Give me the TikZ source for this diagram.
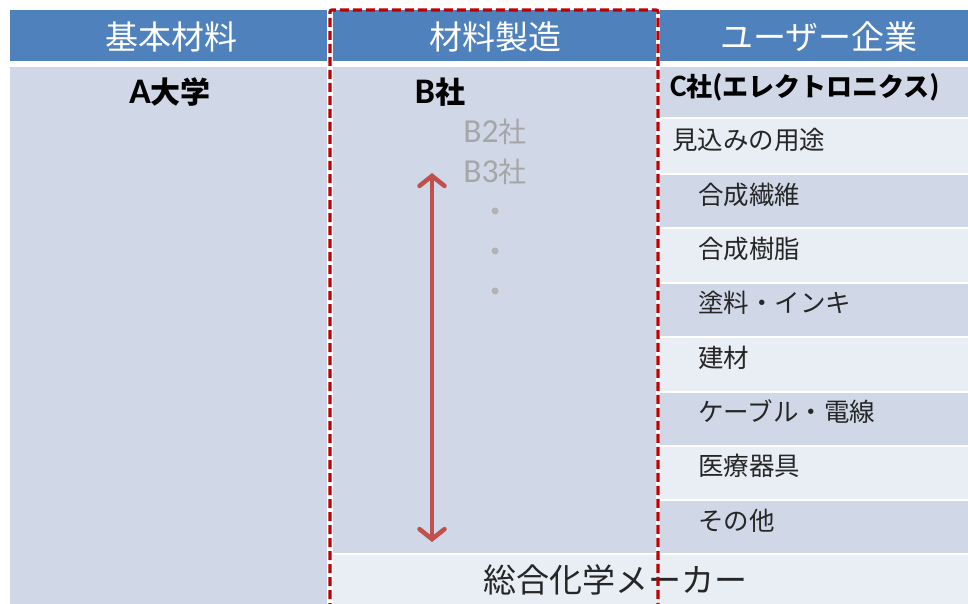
\documentclass[tikz,border=0pt]{standalone}
\usepackage{fontspec}
\setmainfont{Noto Sans CJK JP}
\newfontfamily\jp{Noto Sans CJK JP}
\newfontfamily\lat[Scale=1.2]{Carlito}
\usetikzlibrary{arrows.meta}
\definecolor{hdr}{HTML}{4F81BD}
\definecolor{dk}{HTML}{D0D8E8}
\definecolor{lt}{HTML}{E9EDF4}
\definecolor{arr}{HTML}{C0504D}
\definecolor{dsh}{HTML}{C00000}
\tikzset{
  hdtext/.style={inner sep=0pt, text=white, font=\jp\fontsize{33}{33}\selectfont},
  boldtext/.style={inner sep=0pt, text=black, font=\bfseries\fontsize{30}{30}\selectfont},
  item/.style={inner sep=0pt, anchor=west, text=black!85, font=\jp\fontsize{25.5}{25.5}\selectfont},
  graytext/.style={inner sep=0pt, text=black!35, font=\fontsize{28}{28}\selectfont},
  dotst/.style={circle, fill=black!30, inner sep=0pt, minimum size=7pt},
}
\begin{document}
\begin{tikzpicture}[x=1pt,y=-1pt]
\useasboundingbox (0,0) rectangle (968,604);
\fill[white] (0,0) rectangle (968,604);
% headers
\fill[hdr] (10,10) rectangle (327,61);
\fill[hdr] (333,10) rectangle (656,61);
\fill[hdr] (660,10) rectangle (968,61);
% column bodies
\fill[dk] (10,67) rectangle (327,604);
\fill[dk] (333,67) rectangle (656,553);
\fill[lt] (333,555) rectangle (968,604);
% column 3 rows
\fill[dk] (660,67) rectangle (968,117);
\fill[lt] (660,119) rectangle (968,173);
\fill[dk] (660,175) rectangle (968,227);
\fill[lt] (660,229) rectangle (968,282);
\fill[dk] (660,284) rectangle (968,336);
\fill[lt] (660,338) rectangle (968,391);
\fill[dk] (660,393) rectangle (968,445);
\fill[lt] (660,447) rectangle (968,499);
\fill[dk] (660,501) rectangle (968,553);
% header texts
\node[hdtext] (h1) at (171,37) {基本材料};
\node[hdtext] (h2) at (495,37) {材料製造};
\node[hdtext] (h3) at (819,37) {ユーザー企業};
% body texts
\node[boldtext] (a) at (170,92) {{\lat\bfseries A}大学};
\node[boldtext] (b) at (440,92) {{\lat\bfseries B}社};
\node[boldtext, anchor=west, font=\bfseries\fontsize{26}{26}\selectfont] (c) at (670,87) {{\lat\bfseries C}社{\lat\bfseries (}エレクトロニクス{\lat\bfseries )}};
\node[item] (u0) at (672,140) {見込みの用途};
\node[item] (u1) at (698,195) {合成繊維};
\node[item] (u2) at (698,249) {合成樹脂};
\node[item] (u3) at (698,303) {塗料・インキ};
\node[item] (u4) at (698,358) {建材};
\node[item] (u5) at (698,412) {ケーブル・電線};
\node[item] (u6) at (698,466) {医療器具};
\node[item] (u7) at (698,521) {その他};
\node[graytext] (b2) at (495,132) {{\lat B2}社};
\node[graytext] (b3) at (495,172) {{\lat B3}社};
\node[dotst] (d1) at (495,211) {};
\node[dotst] (d2) at (495,251) {};
\node[dotst] (d3) at (495,291) {};
\node[item, anchor=center, font=\jp\fontsize{33}{33}\selectfont] (m) at (615,580) {総合化学メーカー};
% arrow
\coordinate (at) at (432,173);
\coordinate (ab) at (432,542);
\draw[arr, line width=4.5pt, {Straight Barb[length=10pt,width=25pt,line cap=round]}-{Straight Barb[length=10pt,width=25pt,line cap=round]}] (at) -- (ab);
% dashed frame
\draw[dsh, line width=3.2pt, dash pattern=on 9pt off 4pt, rounded corners=2pt] (330,612) -- (330,10) -- (658,10) -- (658,612);
\end{tikzpicture}
\end{document}
